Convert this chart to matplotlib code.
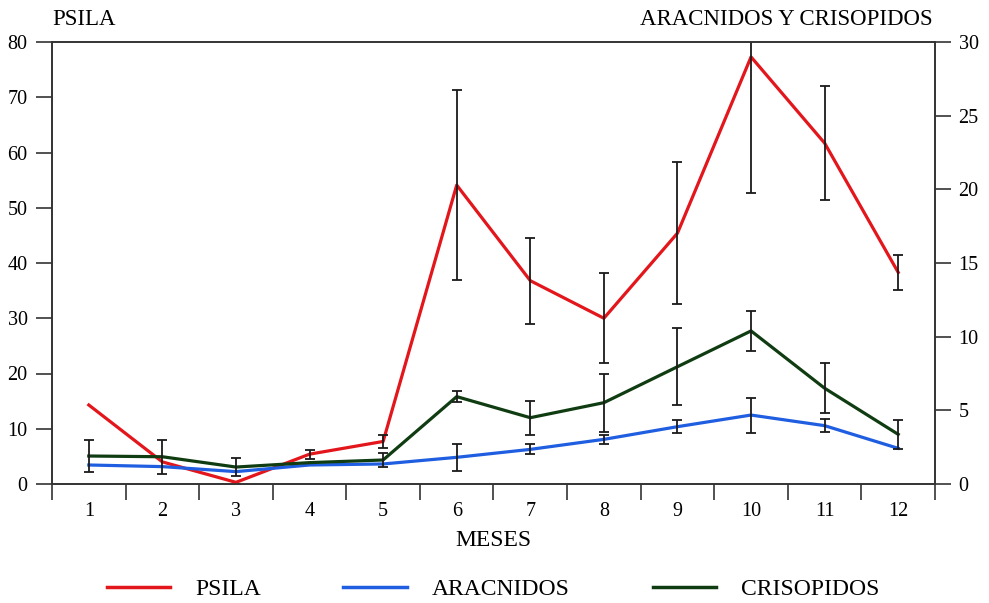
import numpy as np
import matplotlib
matplotlib.use('Agg')
from matplotlib import pyplot as plt

# datos
meses = [1, 2, 3, 4, 5, 6, 7, 8, 9, 10, 11, 12]
psila = [14.3, 4.0, 0.3, 5.4, 7.7, 54.1, 36.8, 30.0, 45.4, 77.3, 61.7, 38.3]
psila_err = [0, 0, 0, 0.8, 1.15, 17.2, 7.8, 8.1, 12.85, 24.6, 10.35, 3.2]
aracnidos = [1.29, 1.18, 0.84, 1.29, 1.36, 1.81, 2.35, 3.03, 3.89, 4.68, 3.96, 2.42]
aracnidos_err = [0, 0, 0, 0, 0, 0.93, 0.34, 0.3, 0.45, 1.19, 0.46, 0]
crisopidos = [1.9, 1.85, 1.15, 1.45, 1.63, 5.93, 4.5, 5.52, 7.96, 10.39, 6.5, 3.37]
crisopidos_err = [1.1, 1.15, 0.6, 0, 0.45, 0.37, 1.16, 1.98, 2.63, 1.36, 1.7, 0.98]

rojo = '#e3161c'
azul = '#1f5ee0'
verde = '#103c12'

plt.rcParams['font.family'] = ['Liberation Serif', 'DejaVu Serif']
plt.rcParams['font.size'] = 14.5

fig = plt.figure(figsize=(9.89, 6.03), dpi=100)
ax = fig.add_axes([52 / 989, 1 - 484 / 603, (935 - 52) / 989, (484 - 42) / 603])
ax2 = ax.twinx()


def barras(a, x, y, err):
    # solo dibuja las barras que existen
    x = np.array(x)
    y = np.array(y)
    err = np.array(err)
    m = err > 0
    a.errorbar(x[m], y[m], yerr=err[m], fmt='none', ecolor='#1a1a1a',
               elinewidth=1.3, capsize=3.5, capthick=1.3, zorder=4)


# psila en el eje izquierdo
ax.plot(meses, psila, color=rojo, lw=2.3, zorder=3)
barras(ax, meses, psila, psila_err)

# aracnidos y crisopidos en el eje derecho
ax2.plot(meses, aracnidos, color=azul, lw=2.3, zorder=3)
ax2.plot(meses, crisopidos, color=verde, lw=2.3, zorder=3)
barras(ax2, meses, aracnidos, aracnidos_err)
barras(ax2, meses, crisopidos, crisopidos_err)

ax.set_xlim(0.5, 12.5)
ax.set_ylim(0, 80)
ax2.set_ylim(0, 30)
ax.set_yticks(np.arange(0, 81, 10))
ax2.set_yticks(np.arange(0, 31, 5))

ax.set_xticks(np.arange(0.5, 13, 1))
ax.set_xticklabels([])
ax.set_xticks(meses, minor=True)
ax.set_xticklabels([str(m) for m in meses], minor=True)
ax.tick_params(axis='x', which='major', length=11.5, width=1.2, color='#333333')
ax.tick_params(axis='x', which='minor', length=0, pad=13)
ax.tick_params(axis='y', length=11.5, width=1.2, color='#333333', pad=6)
ax2.tick_params(axis='y', length=11.5, width=1.2, color='#333333', pad=5.5)

for a in (ax, ax2):
    for s in a.spines.values():
        s.set_color('#333333')
        s.set_linewidth(1.2)

fig.text(52 / 989, 1 - 25 / 603, 'PSILA', ha='left', va='baseline', fontsize=16.5)
fig.text(933 / 989, 1 - 25 / 603, 'ARACNIDOS Y CRISOPIDOS', ha='right',
         va='baseline', fontsize=16.5)
fig.text(493 / 989, 1 - 541 / 603, 'MESES', ha='center', va='center', fontsize=17)

h1, = ax.plot([], [], color=rojo, lw=2.5)
h2, = ax.plot([], [], color=azul, lw=2.5)
h3, = ax.plot([], [], color=verde, lw=2.5)
fig.legend([h1, h2, h3], ['PSILA', 'ARACNIDOS', 'CRISOPIDOS'], loc='center',
           bbox_to_anchor=(493 / 989, 1 - 589 / 603), ncol=3, frameon=False,
           fontsize=17, handlelength=2.7, handletextpad=1.05, columnspacing=3.5,
           borderpad=0, borderaxespad=0)

fig.savefig('out.png', dpi=100)
